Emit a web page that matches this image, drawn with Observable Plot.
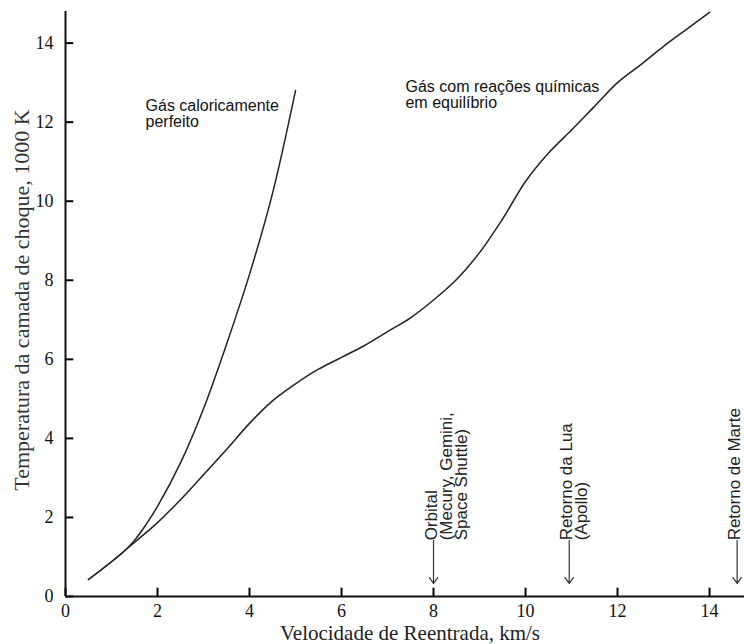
<!DOCTYPE html>
<html><head><meta charset="utf-8">
<script src="https://cdn.jsdelivr.net/npm/d3@7"></script>
<script src="https://cdn.jsdelivr.net/npm/@observablehq/plot@0.6"></script>
<style>body{margin:0;background:#fff}#chart{width:744px;height:644px}</style>
</head><body><div id="chart"></div>
<script>
// Gás caloricamente perfeito
const velPerfect = [0.5, 1.0, 1.25, 1.5, 1.75, 2.0, 2.5, 3.0, 3.5, 4.0, 4.5, 5.0];
const tempPerfect = [0.43, 0.88, 1.12, 1.42, 1.82, 2.28, 3.38, 4.75, 6.38, 8.15, 10.2, 12.8];
// Gás com reações químicas em equilíbrio
const velEquil = [0.5, 1.0, 1.5, 2.0, 2.5, 3.0, 3.5, 4.0, 4.5, 5.0, 5.5, 6.0, 6.5, 7.0, 7.5, 8.0, 8.5, 9.0, 9.5, 10.0, 10.5, 11.0, 11.5, 12.0, 12.5, 13.0, 13.5, 14.0];
const tempEquil = [0.43, 0.88, 1.37, 1.87, 2.45, 3.08, 3.72, 4.38, 4.95, 5.38, 5.75, 6.05, 6.35, 6.7, 7.05, 7.5, 8.02, 8.7, 9.55, 10.5, 11.22, 11.8, 12.4, 13.0, 13.45, 13.92, 14.35, 14.78];
// Missões
const missionVel = [8, 10.95, 14.6];
const missionLabels = ["Orbital\n(Mecury, Gemini,\nSpace Shuttle)", "Retorno da Lua\n(Apollo)", "Retorno de Marte"];
// Ticks & labels
const xTicks = [0, 2, 4, 6, 8, 10, 12, 14];
const yTicks = [0, 2, 4, 6, 8, 10, 12, 14];
const xLabel = "Velocidade de Reentrada, km/s";
const yLabel = "Temperatura da camada de choque, 1000 K";
const labelPerfect = "Gás caloricamente\nperfeito";
const labelEquil = "Gás com reações químicas\nem equilíbrio";

const perfect = velPerfect.map((v, i) => ({v, t: tempPerfect[i]}));
const equil = velEquil.map((v, i) => ({v, t: tempEquil[i]}));
const missions = missionVel.map((v, i) => ({v, label: missionLabels[i]}));

const serif = "'Liberation Serif', 'Times New Roman', serif";
const sans = "'Liberation Sans', Arial, sans-serif";

const chart = Plot.plot({
  width: 744,
  height: 644,
  marginLeft: 65,
  marginRight: 0,
  marginTop: 11,
  marginBottom: 48,
  style: {fontFamily: serif, background: "#fff", color: "#111"},
  x: {domain: [0, 14.76]},
  y: {domain: [0, 14.8]},
  marks: [
    // tick labels
    Plot.axisX({ticks: xTicks, tickSize: 0, tickPadding: 8, fontSize: 18, fontFamily: serif, label: null}),
    Plot.axisY({ticks: yTicks, tickSize: 0, tickPadding: 12, fontSize: 18, fontFamily: serif, label: null}),
    // inward tick marks (about 8 px long)
    Plot.ruleX(xTicks, {x: d => d, y1: 0, y2: 0.21, stroke: "#000", strokeWidth: 2}),
    Plot.ruleY(yTicks, {y: d => d, x1: 0, x2: 0.18, stroke: "#000", strokeWidth: 2}),
    // axis titles
    Plot.text([xLabel], {frameAnchor: "bottom", text: d => d, textAnchor: "middle", dx: 5, dy: 37, lineAnchor: "middle",
      fontFamily: serif, fontSize: 21, fill: "#222"}),
    Plot.text([yLabel], {frameAnchor: "left", text: d => d, textAnchor: "middle", rotate: -90, dx: -44, dy: -4, lineAnchor: "middle",
      fontFamily: serif, fontSize: 22, fill: "#333"}),
    // axis lines
    Plot.ruleX([0], {stroke: "#111", strokeWidth: 2}),
    Plot.ruleY([0], {stroke: "#111", strokeWidth: 2}),
    // curves
    Plot.line(perfect, {x: "v", y: "t", curve: "catmull-rom", stroke: "#222", strokeWidth: 1.5}),
    Plot.line(equil, {x: "v", y: "t", curve: "catmull-rom", stroke: "#222", strokeWidth: 1.5}),
    // curve labels
    Plot.text([labelPerfect], {x: 1.74, y: 12.56, text: d => d, textAnchor: "start", lineAnchor: "top",
      fontFamily: sans, fontSize: 16, lineHeight: 1.0, fill: "#111"}),
    Plot.text([labelEquil], {x: 7.39, y: 13.06, text: d => d, textAnchor: "start", lineAnchor: "top",
      fontFamily: sans, fontSize: 16, lineHeight: 1.0, fill: "#111"}),
    // mission arrows
    Plot.arrow(missions, {x1: "v", x2: "v", y1: 1.42, y2: 0.33, stroke: "#333", strokeWidth: 1.2, headLength: 9, headAngle: 70}),
    Plot.text(missions, {x: "v", y: 1.42, text: "label", rotate: -90, textAnchor: "start", lineAnchor: "top",
      dx: -7.5, fontFamily: sans, fontSize: 17, lineHeight: 0.88, fill: "#222"})
  ]
});
document.getElementById("chart").append(chart);
</script>
</body></html>
